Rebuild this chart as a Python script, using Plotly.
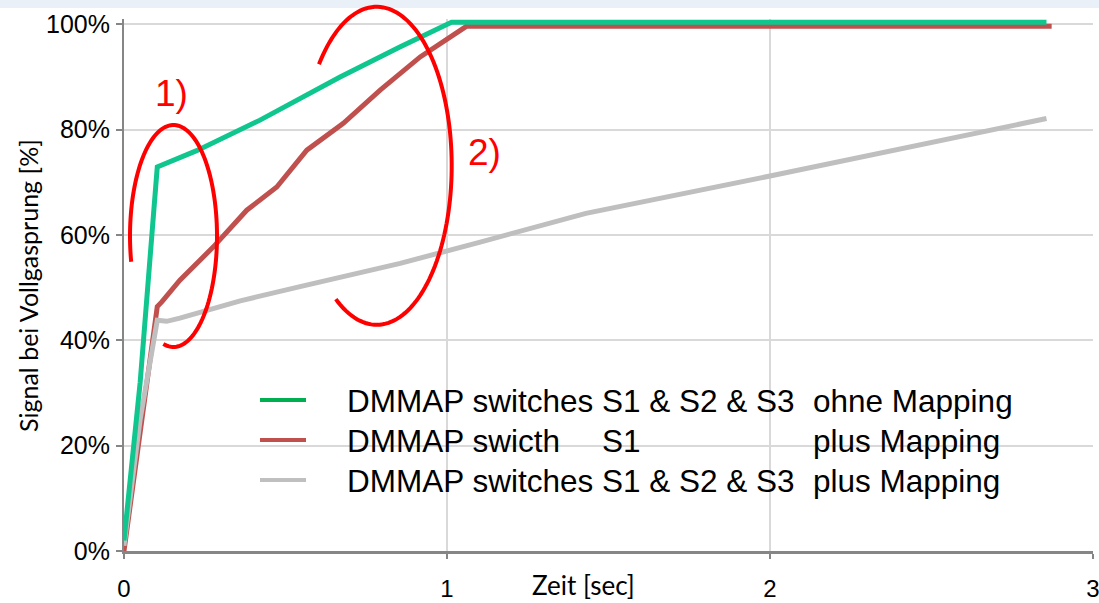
import numpy as np
import plotly.graph_objects as go

# ---------------- data ----------------
time_green = [0, 0.05, 0.103, 0.12, 0.137, 0.173, 0.225, 0.421, 0.669, 0.854, 1.014, 2.856]
sig_green = [2, 32, 72.9, 73.3, 73.9, 74.6, 76, 81.8, 90, 95.7, 100.4, 100.4]

time_red = [0, 0.1, 0.103, 0.117, 0.142, 0.173, 0.276, 0.38, 0.473, 0.566, 0.679, 0.793, 0.917, 1.06, 2.872]
sig_red = [0, 43.5, 46.4, 47.3, 49, 51.4, 57.7, 64.7, 69.1, 76.1, 81.2, 87.5, 93.8, 99.6, 99.6]

time_gray = [0, 0.05, 0.103, 0.132, 0.173, 0.36, 0.545, 0.855, 1.1, 1.43, 2.0, 2.856]
sig_gray = [1, 25, 43.8, 43.6, 44.2, 47.5, 50.2, 54.6, 58.6, 64.1, 71.2, 82.1]

y_ticks = [0, 20, 40, 60, 80, 100]
y_tick_labels = ["0%", "20%", "40%", "60%", "80%", "100%"]
x_ticks = [0, 1, 2, 3]
x_tick_labels = ["0", "1", "2", "3"]

legend_col1 = ["DMMAP switches", "DMMAP swicth", "DMMAP switches"]
legend_col2 = ["S1 & S2 & S3", "S1", "S1 & S2 & S3"]
legend_col3 = ["ohne Mapping", "plus Mapping", "plus Mapping"]

GREEN = "#0FC68E"
RED = "#C0504D"
GRAY = "#BFBFBF"
LEG_COLORS = ["#00B050", RED, GRAY]
MARK = "#FF0000"

W, H = 1099, 603
ML, MR, MT, MB = 124, 6, 19, 52
PW, PH = W - ML - MR, H - MT - MB


def px(x):
    return (x - ML) / PW


def py(y):
    return (H - MB - y) / PH


fig = go.Figure()
fig.add_trace(go.Scatter(x=time_red, y=sig_red, mode="lines",
                         line=dict(color=RED, width=5), showlegend=False))
fig.add_trace(go.Scatter(x=time_gray, y=sig_gray, mode="lines",
                         line=dict(color=GRAY, width=5), showlegend=False))
fig.add_trace(go.Scatter(x=time_green, y=sig_green, mode="lines",
                         line=dict(color=GREEN, width=5), showlegend=False))

shapes = []
# faint band at the very top
shapes.append(dict(type="rect", xref="paper", yref="paper", x0=px(0), x1=px(W),
                   y0=py(0), y1=py(8), fillcolor="#EAF0F7", line=dict(width=0), layer="below"))


def arc(cx, cy, a, b, t0, t1, n=120):
    t = np.radians(np.linspace(t0, t1, n))
    xs = cx + a * np.cos(t)
    ys = cy - b * np.sin(t)
    pts = [f"{px(x):.5f},{py(y):.5f}" for x, y in zip(xs, ys)]
    return "M " + " L ".join(pts)


shapes.append(dict(type="path", xref="paper", yref="paper",
                   path=arc(173.5, 236, 43.5, 111, 193.4, -103.5),
                   line=dict(color=MARK, width=4)))
shapes.append(dict(type="path", xref="paper", yref="paper",
                   path=arc(376.7, 165.8, 75, 159, 140.3, -123),
                   line=dict(color=MARK, width=4)))

# legend sample lines
leg_y = [400, 440, 480]
for yy, c in zip(leg_y, LEG_COLORS):
    shapes.append(dict(type="line", xref="paper", yref="paper",
                       x0=px(260), x1=px(306), y0=py(yy), y1=py(yy),
                       line=dict(color=c, width=4)))

annotations = []
LEGFONT = dict(family="Liberation Sans, Arial", size=31.5, color="#000000")
for yy, t1, t2, t3 in zip(leg_y, legend_col1, legend_col2, legend_col3):
    for xx, t in ((345, t1), (600, t2), (811, t3)):
        annotations.append(dict(text=t, xref="paper", yref="paper", x=px(xx), y=py(yy + 1),
                                xanchor="left", yanchor="middle", showarrow=False, font=LEGFONT))

annotations.append(dict(text="1)", xref="paper", yref="paper", x=px(171), y=py(93),
                        xanchor="center", yanchor="middle", showarrow=False,
                        font=dict(family="Liberation Sans, Arial", size=37, color=MARK)))
annotations.append(dict(text="2)", xref="paper", yref="paper", x=px(484), y=py(153),
                        xanchor="center", yanchor="middle", showarrow=False,
                        font=dict(family="Liberation Sans, Arial", size=37, color=MARK)))

annotations.append(dict(text="Zeit [sec]", xref="paper", yref="paper", x=px(583), y=py(585),
                        xanchor="center", yanchor="middle", showarrow=False,
                        font=dict(family="Lato, Open Sans", size=26, color="#000000")))
annotations.append(dict(text="Signal bei Vollgasprung [%]", xref="paper", yref="paper",
                        x=px(28), y=py(286), xanchor="center", yanchor="middle",
                        textangle=-90, showarrow=False,
                        font=dict(family="Lato, Open Sans", size=25, color="#000000")))

fig.update_layout(
    width=W, height=H,
    margin=dict(l=ML, r=MR, t=MT, b=MB, pad=0, autoexpand=False),
    paper_bgcolor="white", plot_bgcolor="white",
    shapes=shapes, annotations=annotations,
    showlegend=False,
    xaxis=dict(range=[0, 3], tickvals=x_ticks, ticktext=x_tick_labels,
               showgrid=True, gridcolor="#D9D9D9", gridwidth=2,
               showline=True, linecolor="#868686", linewidth=3,
               ticks="outside", ticklen=5, tickcolor="#868686", tickwidth=2,
               zeroline=False, ticklabelstandoff=9, automargin=False,
               ticklabeloverflow="allow",
               tickfont=dict(family="Liberation Sans, Arial", size=24, color="#000000")),
    yaxis=dict(range=[0, 101], tickvals=y_ticks, ticktext=y_tick_labels,
               showgrid=True, gridcolor="#D9D9D9", gridwidth=2,
               showline=True, linecolor="#868686", linewidth=2,
               ticks="outside", ticklen=6, tickcolor="#868686", tickwidth=2,
               zeroline=False, ticklabelstandoff=1, automargin=False,
               tickfont=dict(family="Liberation Sans, Arial", size=25, color="#000000")),
)

fig.write_html("out.html", config={"displayModeBar": False},
               post_script="document.body.style.margin='0';")
